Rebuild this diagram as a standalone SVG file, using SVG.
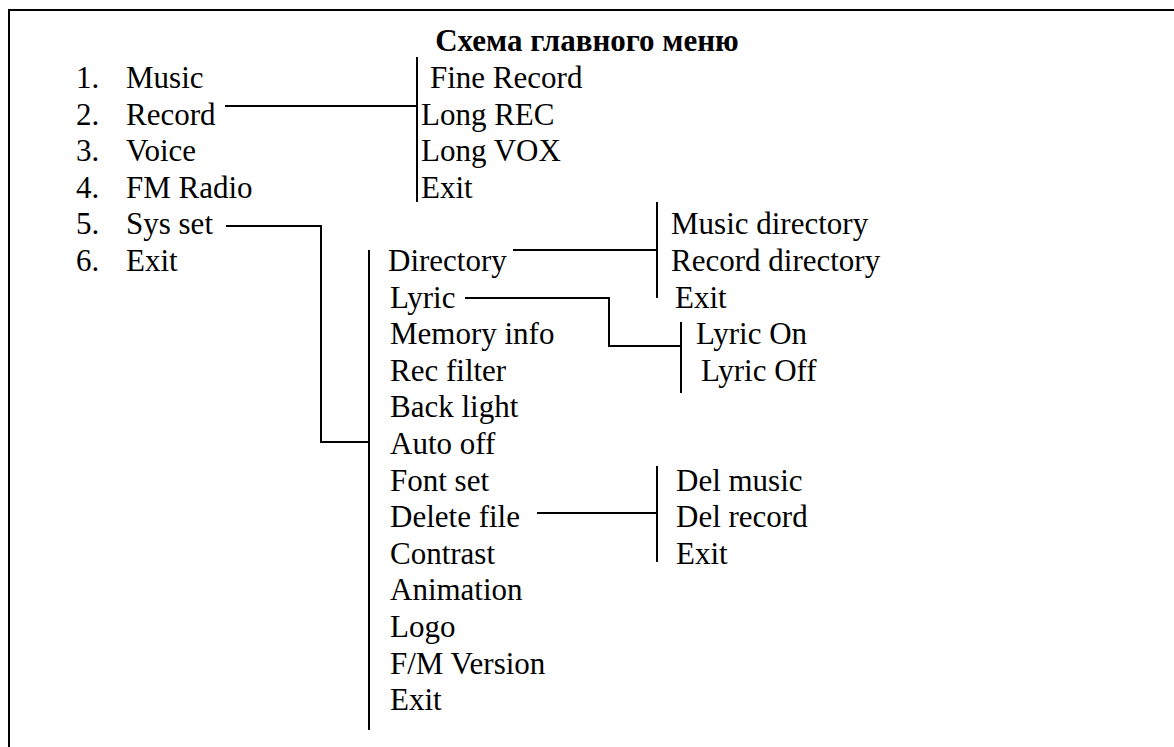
<svg xmlns="http://www.w3.org/2000/svg" width="1174" height="747" viewBox="0 0 1174 747">
<style>
text{font-family:"Liberation Serif","Times New Roman",Times,serif;font-size:31px;fill:#000}
.t{font-weight:bold}
.ln{stroke:#000;stroke-width:2;fill:none}
</style>
<rect x="0" y="0" width="1174" height="747" fill="#fff"/>
<path class="ln" d="M9 747 V10 H1174"/>
<g font-family="Liberation Serif, Times New Roman, serif">
<text id="title" class="t" x="587" y="51" text-anchor="middle">Схема главного меню</text>
<g id="main">
<g id="m1"><text x="76" y="88">1.</text><text x="126" y="88">Music</text></g>
<g id="m2"><text x="76" y="124.6">2.</text><text x="126" y="124.6">Record</text></g>
<g id="m3"><text x="76" y="161.2">3.</text><text x="126" y="161.2">Voice</text></g>
<g id="m4"><text x="76" y="197.8">4.</text><text x="126" y="197.8">FM Radio</text></g>
<g id="m5"><text x="76" y="234.4">5.</text><text x="126" y="234.4">Sys set</text></g>
<g id="m6"><text x="76" y="271">6.</text><text x="126" y="271">Exit</text></g>
</g>
<g id="record-sub">
<text x="430" y="88">Fine Record</text>
<text x="421" y="124.6">Long REC</text>
<text x="421" y="161.2">Long VOX</text>
<text x="421" y="197.8">Exit</text>
</g>
<g id="sys-sub">
<text x="388" y="271">Directory</text>
<text x="390" y="307.6">Lyric</text>
<text x="390" y="344.2">Memory info</text>
<text x="390" y="380.8">Rec filter</text>
<text x="390" y="417.4">Back light</text>
<text x="390" y="454">Auto off</text>
<text x="390" y="490.6">Font set</text>
<text x="390" y="527.2">Delete file</text>
<text x="390" y="563.8">Contrast</text>
<text x="390" y="600.4">Animation</text>
<text x="390" y="637">Logo</text>
<text x="390" y="673.6">F/M Version</text>
<text x="390" y="710.2">Exit</text>
</g>
<g id="dir-sub">
<text x="671" y="234.4">Music directory</text>
<text x="671" y="271">Record directory</text>
<text x="675" y="307.6">Exit</text>
</g>
<g id="lyric-sub">
<text x="696" y="344.2">Lyric On</text>
<text x="701" y="380.8">Lyric Off</text>
</g>
<g id="del-sub">
<text x="676" y="490.6">Del music</text>
<text x="676" y="527.2">Del record</text>
<text x="676" y="563.8">Exit</text>
</g>
</g>
<g id="connectors" class="ln">
<path d="M225 106 H417"/>
<path d="M417 57 V202"/>
<path d="M226 226 H321 V442 H369"/>
<path d="M369 250 V730"/>
<path d="M513 250 H657"/>
<path d="M657 202 V298"/>
<path d="M465 298 H609 V346 H681"/>
<path d="M681 322 V393"/>
<path d="M537 513 H657"/>
<path d="M657 466 V562"/>
</g>
</svg>
